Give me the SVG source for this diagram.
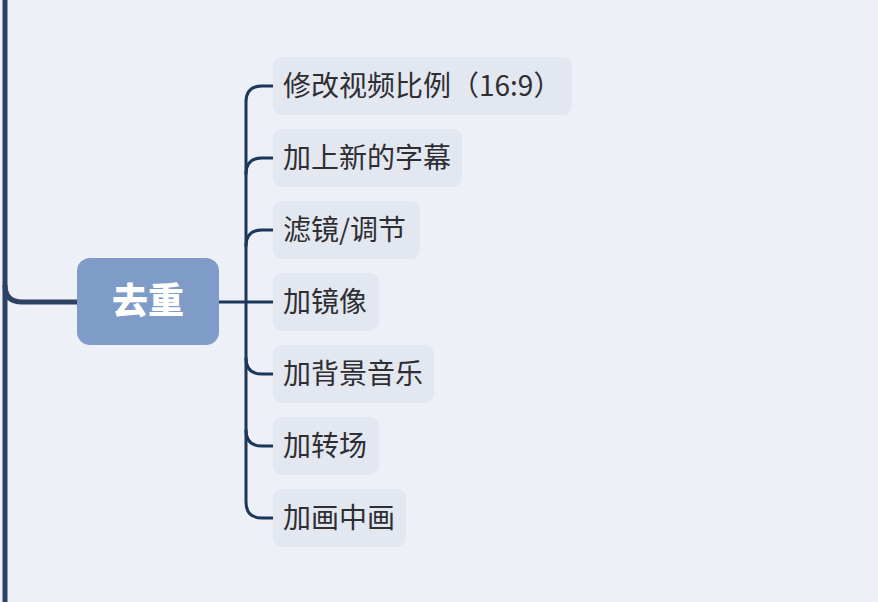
<svg xmlns="http://www.w3.org/2000/svg" width="878" height="602" viewBox="0 0 878 602">
<style>
.ln{fill:none;stroke:#1c375a;stroke-width:3;stroke-linecap:round}
.ch rect{fill:#e2e7f0}
.ch text{font-family:"Noto Sans CJK SC","Noto Sans",sans-serif;font-size:28px;fill:#2e2e33}
</style>
<rect width="878" height="602" fill="#edf0f7"/>
<g id="connectors">
<path d="M5,0 V602" fill="none" stroke="#2d4262" stroke-width="5"/>
<path d="M5,285 Q5,302 22,302 H78" fill="none" stroke="#2d4262" stroke-width="5"/>
<path class="ln" d="M219,302 H273"/>
<path class="ln" d="M273,86 H262 Q246,86 246,102 V502 Q246,518 262,518 H273"/>
<path class="ln" d="M273,158 H262 Q246,158 246,174"/>
<path class="ln" d="M273,230 H262 Q246,230 246,246"/>
<path class="ln" d="M246,358 Q246,374 262,374 H273"/>
<path class="ln" d="M246,430 Q246,446 262,446 H273"/>
</g>
<g id="root">
<rect x="77" y="258" width="142" height="87" rx="13" fill="#7f9cc8"/>
<text x="148" y="314" text-anchor="middle" font-family="Noto Sans CJK SC,sans-serif" font-weight="900" font-size="36" fill="#ffffff">去重</text>
</g>
<g id="c1" class="ch"><rect x="273" y="57" width="299" height="58" rx="9"/><text x="283" y="96">修改视频比例（16:9）</text></g>
<g id="c2" class="ch"><rect x="273" y="129" width="189" height="58" rx="9"/><text x="283" y="168">加上新的字幕</text></g>
<g id="c3" class="ch"><rect x="273" y="201" width="147" height="58" rx="9"/><text x="283" y="240">滤镜/调节</text></g>
<g id="c4" class="ch"><rect x="273" y="273" width="106" height="58" rx="9"/><text x="283" y="312">加镜像</text></g>
<g id="c5" class="ch"><rect x="273" y="345" width="161" height="58" rx="9"/><text x="283" y="384">加背景音乐</text></g>
<g id="c6" class="ch"><rect x="273" y="417" width="106" height="58" rx="9"/><text x="283" y="456">加转场</text></g>
<g id="c7" class="ch"><rect x="273" y="489" width="133" height="58" rx="9"/><text x="283" y="528">加画中画</text></g>
</svg>
